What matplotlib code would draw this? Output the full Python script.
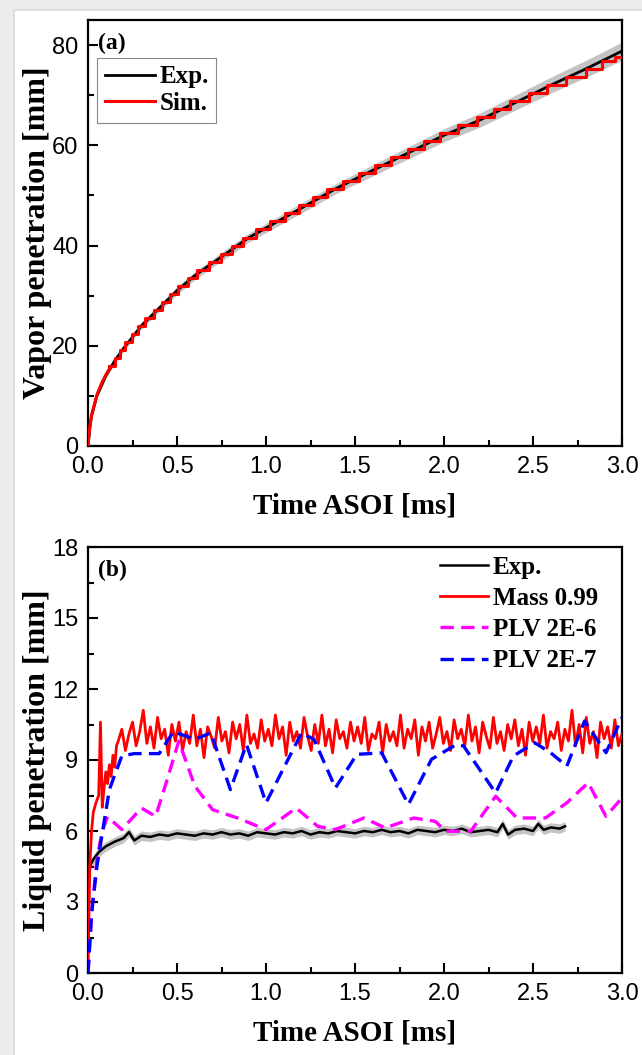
import matplotlib
matplotlib.use('Agg')
import matplotlib.pyplot as plt
from matplotlib.patches import Rectangle
from matplotlib.ticker import MultipleLocator, FormatStrFormatter
import numpy as np

plt.rcParams['font.family'] = ['Liberation Sans', 'DejaVu Sans']

SERIF_B = dict(family='Liberation Serif', weight='bold')

# ---- (a) vapor penetration ----
vap_exp_t = [0.0, 0.01, 0.02, 0.05, 0.1, 0.15, 0.2, 0.3, 0.4, 0.5, 0.6, 0.7, 0.8,
             0.9, 1.0, 1.2, 1.4, 1.6, 1.8, 2.0, 2.2, 2.4, 2.6, 2.8, 3.0]
vap_exp_mm = [0.0, 3.5, 6.0, 10.0, 14.0, 17.0, 19.5, 24.0, 27.5, 31.0, 34.0, 36.5, 39.0,
              41.5, 43.5, 47.5, 51.5, 55.0, 58.5, 62.0, 65.0, 68.5, 72.0, 75.3, 78.8]
vap_exp_sd = [0.0, 0.3, 0.4, 0.5, 0.5, 0.6, 0.6, 0.7, 0.7, 0.8, 0.8, 0.8, 0.9,
              0.9, 0.9, 1.0, 1.0, 1.1, 1.2, 1.3, 1.4, 1.5, 1.6, 1.7, 1.8]

# simulated tip: smooth near the nozzle, then cell-by-cell steps
vap_sim_t0 = [0.0, 0.01, 0.02, 0.05, 0.08, 0.1, 0.12]
vap_sim_mm0 = [0.0, 3.8, 6.2, 10.2, 12.8, 14.2, 15.4]
vap_sim_t = [0.12, 0.15, 0.18, 0.21, 0.245, 0.28, 0.32, 0.37, 0.415, 0.46, 0.505, 0.56,
             0.615, 0.68, 0.745, 0.81, 0.87, 0.945, 1.025, 1.105, 1.185, 1.265, 1.345,
             1.43, 1.52, 1.61, 1.70, 1.795, 1.885, 1.975, 2.08, 2.185, 2.28, 2.37, 2.475,
             2.58, 2.685, 2.795, 2.885, 2.96, 3.0]
vap_sim_mm = [16.0, 17.6, 19.2, 20.8, 22.4, 24.0, 25.6, 27.2, 28.8, 30.4, 32.0, 33.6,
              35.2, 36.8, 38.4, 40.0, 41.6, 43.2, 44.8, 46.4, 48.0, 49.6, 51.2,
              52.8, 54.4, 56.0, 57.6, 59.2, 60.8, 62.4, 64.0, 65.6, 67.2, 68.8, 70.4,
              72.0, 73.6, 75.2, 76.8, 77.6, 77.6]

# ---- (b) liquid penetration ----
liq_exp_t = [0.005, 0.01, 0.03, 0.06, 0.1, 0.15, 0.2, 0.23, 0.26, 0.3, 0.35, 0.4, 0.45,
             0.5, 0.55, 0.6, 0.65, 0.7, 0.75, 0.8, 0.85, 0.9, 0.95, 1.0, 1.05, 1.1,
             1.15, 1.2, 1.25, 1.3, 1.35, 1.4, 1.45, 1.5, 1.55, 1.6, 1.65, 1.7, 1.75,
             1.8, 1.85, 1.9, 1.95, 2.0, 2.05, 2.1, 2.15, 2.2, 2.25, 2.3, 2.33, 2.36,
             2.4, 2.45, 2.5, 2.53, 2.56, 2.6, 2.65, 2.68]
liq_exp_mm = [4.2, 4.5, 4.8, 5.1, 5.35, 5.55, 5.7, 5.95, 5.6, 5.8, 5.75, 5.85, 5.8,
              5.9, 5.85, 5.8, 5.9, 5.85, 5.95, 5.85, 5.9, 5.8, 5.95, 5.9, 5.85, 5.95,
              5.9, 6.0, 5.85, 5.95, 5.9, 6.0, 5.95, 5.9, 6.0, 5.95, 6.05, 5.95, 6.0,
              5.9, 6.05, 6.0, 5.95, 6.05, 6.0, 6.1, 5.95, 6.0, 6.05, 5.95, 6.3, 5.85,
              6.05, 6.1, 6.0, 6.3, 6.05, 6.15, 6.1, 6.2]

liq_mass_t0 = [0.0, 0.01, 0.02, 0.03, 0.045, 0.06, 0.07, 0.08, 0.09, 0.1, 0.11, 0.12,
               0.13, 0.14, 0.15, 0.16]
liq_mass_mm0 = [0.0, 4.5, 6.0, 6.8, 7.2, 7.5, 10.6, 7.0, 7.8, 8.5, 8.0, 8.8,
                8.3, 9.2, 8.7, 9.6]
liq_mass_mm = [9.8, 10.3, 9.4, 10.1, 10.6, 9.6, 10.2, 11.1, 9.7, 10.4, 9.5, 10.8, 9.9,
               10.3, 9.2, 10.5, 9.8,
               10.6, 9.4, 10.2, 9.7, 10.9, 9.6, 10.3, 9.1, 10.4, 10.0, 9.5, 10.8, 9.8,
               10.2, 9.3, 10.6, 9.9, 10.5, 9.4, 10.9, 9.7, 10.1, 9.5, 10.7, 9.8,
               10.3, 9.6, 10.9, 9.9, 10.4, 9.2, 10.6, 9.8, 10.2, 9.5, 10.8, 10.0, 9.4,
               10.5, 9.7, 10.9, 9.6, 10.3, 9.3, 10.7, 9.9, 10.2, 9.5, 10.6, 9.8,
               10.4, 9.7, 10.8, 9.4, 10.1, 9.9, 10.6, 9.3, 10.5, 9.8, 10.2, 9.6, 10.9,
               9.5, 10.3, 9.9, 10.7, 9.2, 10.4, 9.8, 10.6, 9.5, 10.1, 10.8, 9.7,
               10.2, 9.4, 10.7, 9.9, 10.3, 9.6, 10.9, 9.8, 10.4, 9.3, 10.6, 10.0, 9.5,
               10.8, 9.7, 10.2, 9.4, 10.5, 9.9, 10.7, 9.6, 10.3, 9.2, 10.6, 9.8,
               10.4, 9.7, 10.9, 9.5, 10.2, 9.9, 10.6, 9.4, 10.3, 9.8, 11.1, 9.6, 10.5,
               9.3, 10.8, 9.7, 10.2, 9.1, 10.6, 9.9, 10.4, 9.5, 10.7, 9.6, 10.1]
liq_mass_t = np.linspace(0.17, 3.0, len(liq_mass_mm))

liq_plv6_t = [0.0, 0.02, 0.05, 0.08, 0.11, 0.19, 0.30, 0.38, 0.45, 0.51, 0.60, 0.70,
              0.84, 1.0, 1.17, 1.29, 1.39, 1.55, 1.67, 1.83, 1.95, 2.01, 2.15, 2.29,
              2.41, 2.57, 2.69, 2.81, 2.91, 3.0]
liq_plv6_mm = [0.0, 2.5, 4.8, 6.0, 6.6, 6.06, 6.97, 6.62, 8.3, 9.8, 7.9, 6.9,
               6.55, 6.06, 6.97, 6.2, 6.06, 6.55, 6.13, 6.55, 6.41, 5.99, 5.99, 7.47,
               6.55, 6.55, 7.19, 8.04, 6.62, 7.4]

liq_plv7_t = [0.0, 0.02, 0.05, 0.12, 0.19, 0.26, 0.40, 0.48, 0.60, 0.69, 0.80, 0.89,
              1.0, 1.2, 1.27, 1.39, 1.51, 1.65, 1.80, 1.93, 2.07, 2.11, 2.29, 2.39,
              2.51, 2.60, 2.69, 2.79, 2.91, 3.0]
liq_plv7_mm = [0.0, 2.5, 4.5, 7.75, 9.17, 9.27, 9.27, 10.2, 9.87, 10.15, 7.75, 9.66,
               7.19, 10.15, 9.87, 7.82, 9.24, 9.3, 7.12, 9.03, 9.66, 9.59, 7.61, 9.17,
               9.73, 9.3, 8.74, 10.65, 9.31, 10.8]


def style_axes(ax, ymax, ymajor, yminor):
    ax.set_xlim(0, 3.0)
    ax.set_ylim(0, ymax)
    ax.xaxis.set_major_locator(MultipleLocator(0.5))
    ax.xaxis.set_minor_locator(MultipleLocator(0.25))
    ax.xaxis.set_major_formatter(FormatStrFormatter('%.1f'))
    ax.yaxis.set_major_locator(MultipleLocator(ymajor))
    ax.yaxis.set_minor_locator(MultipleLocator(yminor))
    ax.tick_params(which='both', direction='in', top=False, right=False,
                   width=1.5, labelsize=17, pad=7)
    ax.tick_params(which='major', length=7)
    ax.tick_params(which='minor', length=4)
    for sp in ax.spines.values():
        sp.set_linewidth(1.6)
    ax.set_xlabel('Time ASOI [ms]', fontsize=21, **SERIF_B)
    ax.xaxis.set_label_coords(0.5, -0.11)


fig = plt.figure(figsize=(6.42, 10.55), dpi=100, facecolor='#ececec')
fig.patches.append(Rectangle((13 / 642, 0), 1, 1 - 9 / 1055, transform=fig.transFigure,
                             facecolor='#dedede', edgecolor='none', zorder=-2))
fig.patches.append(Rectangle((15 / 642, 0), 1, 1 - 11 / 1055, transform=fig.transFigure,
                             facecolor='white', edgecolor='none', zorder=-1))

ax1 = fig.add_axes([88 / 642, 1 - 446 / 1055, 534 / 642, 426 / 1055])
ax2 = fig.add_axes([88 / 642, 1 - 973 / 1055, 534 / 642, 426 / 1055])

# (a)
lo = np.array(vap_exp_mm) - np.array(vap_exp_sd)
hi = np.array(vap_exp_mm) + np.array(vap_exp_sd)
ax1.fill_between(vap_exp_t, lo, hi, color='#c4c4c4', lw=0, zorder=1)
ax1.plot(vap_exp_t, vap_exp_mm, color='black', lw=2.0, label='Exp.', zorder=2)
ax1.plot(vap_sim_t0, vap_sim_mm0, color='red', lw=2.2, zorder=3)
ax1.step(vap_sim_t, vap_sim_mm, where='post', color='red', lw=2.2, label='Sim.', zorder=3)
style_axes(ax1, 85, 20, 10)
ax1.set_ylabel('Vapor penetration [mm]', fontsize=23, **SERIF_B)
ax1.yaxis.set_label_coords(-0.068, 0.5)
ax1.text(0.019, 0.944, '(a)', transform=ax1.transAxes, fontsize=17, va='center',
         ha='left', **SERIF_B)
leg1 = ax1.legend(loc='upper left', bbox_to_anchor=(0.017, 0.911), borderaxespad=0,
                  prop=dict(size=18, **SERIF_B), handlelength=2.0, handletextpad=0.2,
                  labelspacing=0.15, borderpad=0.3, fancybox=False, framealpha=1)
leg1.get_frame().set_edgecolor('#888888')
leg1.get_frame().set_linewidth(0.8)

# (b)
liq_lo = np.array(liq_exp_mm) - 0.2
liq_hi = np.array(liq_exp_mm) + 0.2
ax2.fill_between(liq_exp_t, liq_lo, liq_hi, color='#c4c4c4', lw=0, zorder=1)
ax2.plot(liq_exp_t, liq_exp_mm, color='black', lw=1.8, label='Exp.', zorder=2)
ax2.plot(list(liq_mass_t0) + list(liq_mass_t), liq_mass_mm0 + liq_mass_mm,
         color='red', lw=2.0, label='Mass 0.99', zorder=3)
ax2.plot(liq_plv6_t, liq_plv6_mm, color='#ff00ff', lw=2.4, dashes=(4, 2.2),
         label='PLV 2E-6', zorder=4)
ax2.plot(liq_plv7_t, liq_plv7_mm, color='#0000ff', lw=2.4, dashes=(4, 2.2),
         label='PLV 2E-7', zorder=5)
style_axes(ax2, 18, 3, 1.5)
ax2.set_ylabel('Liquid penetration [mm]', fontsize=23, **SERIF_B)
ax2.yaxis.set_label_coords(-0.068, 0.5)
ax2.text(0.019, 0.946, '(b)', transform=ax2.transAxes, fontsize=17, va='center',
         ha='left', **SERIF_B)
ax2.legend(loc='upper right', bbox_to_anchor=(0.955, 0.98), borderaxespad=0,
           prop=dict(size=18, **SERIF_B), handlelength=1.9, handletextpad=0.2,
           labelspacing=0.33, borderpad=0, frameon=False)

fig.savefig('out.png', dpi=100, facecolor=fig.get_facecolor())
